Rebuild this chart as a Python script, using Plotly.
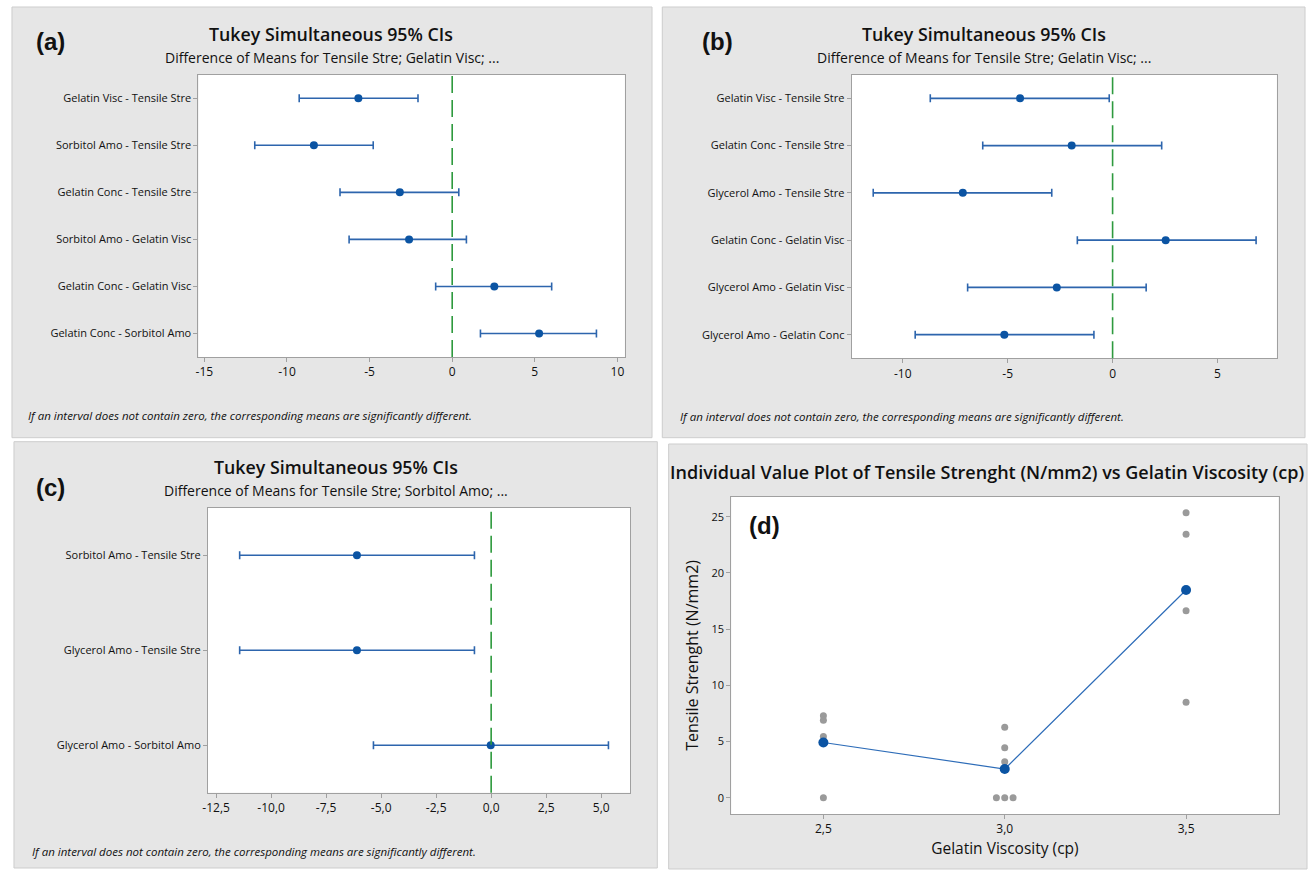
import plotly.graph_objects as go

W, H = 1311, 872

# ---------------- data ----------------
cats_a = ["Gelatin Visc - Tensile Stre", "Sorbitol Amo - Tensile Stre", "Gelatin Conc - Tensile Stre",
          "Sorbitol Amo - Gelatin Visc", "Gelatin Conc - Gelatin Visc", "Gelatin Conc - Sorbitol Amo"]
center_a = [-5.68, -8.37, -3.17, -2.61, 2.55, 5.26]
lower_a = [-9.26, -11.95, -6.79, -6.24, -1.00, 1.71]
upper_a = [-2.07, -4.78, 0.40, 0.86, 6.02, 8.73]

cats_b = ["Gelatin Visc - Tensile Stre", "Gelatin Conc - Tensile Stre", "Glycerol Amo - Tensile Stre",
          "Gelatin Conc - Gelatin Visc", "Glycerol Amo - Gelatin Visc", "Glycerol Amo - Gelatin Conc"]
center_b = [-4.41, -1.95, -7.14, 2.53, -2.66, -5.16]
lower_b = [-8.69, -6.19, -11.41, -1.68, -6.91, -9.41]
upper_b = [-0.16, 2.34, -2.90, 6.84, 1.60, -0.89]

cats_c = ["Sorbitol Amo - Tensile Stre", "Glycerol Amo - Tensile Stre", "Glycerol Amo - Sorbitol Amo"]
center_c = [-6.10, -6.10, -0.02]
lower_c = [-11.43, -11.43, -5.35]
upper_c = [-0.76, -0.76, 5.33]

xticks_a = [-15, -10, -5, 0, 5, 10]
xticklabels_a = ["-15", "-10", "-5", "0", "5", "10"]
xticks_b = [-10, -5, 0, 5]
xticklabels_b = ["-10", "-5", "0", "5"]
xticks_c = [-12.5, -10, -7.5, -5, -2.5, 0, 2.5, 5]
xticklabels_c = ["-12,5", "-10,0", "-7,5", "-5,0", "-2,5", "0,0", "2,5", "5,0"]

visc_levels = [2.5, 3.0, 3.5]
visc_ticklabels = ["2,5", "3,0", "3,5"]
indiv_x = [2.5, 2.5, 2.5, 2.5, 3.0, 3.0, 3.0, 2.977, 3.0, 3.023, 3.5, 3.5, 3.5, 3.5]
indiv_y = [7.3, 6.9, 5.45, 0, 6.26, 4.45, 3.2, 0, 0, 0, 25.36, 23.43, 16.64, 8.49]
mean_y = [4.91, 2.55, 18.48]
yticks_d = [0, 5, 10, 15, 20, 25]

# ---------------- style ----------------
FONT = "Open Sans"
BAR = "#2d65ad"
MARK = "#0b54a3"
GREEN = "#2e9a3e"
AXC = "#a0a0a0"
PANEL = "#e6e6e6"
PANEL_EDGE = "#cdcdcd"
TXT = "#111111"


def px(x):
    return x / W


def py(y):
    return 1 - y / H


fig = go.Figure()


def ci_trace(cats, center, lower, upper, xa, ya):
    fig.add_trace(go.Scatter(
        x=center, y=cats, mode="markers", xaxis=xa, yaxis=ya,
        marker=dict(color=MARK, size=8, symbol="circle"),
        error_x=dict(type="data", symmetric=False,
                     array=[u - c for u, c in zip(upper, center)],
                     arrayminus=[c - l for c, l in zip(center, lower)],
                     color=BAR, thickness=1.6, width=4),
        showlegend=False, hoverinfo="x+y"))


ci_trace(cats_a, center_a, lower_a, upper_a, "x", "y")
ci_trace(cats_b, center_b, lower_b, upper_b, "x2", "y2")
ci_trace(cats_c, center_c, lower_c, upper_c, "x3", "y3")

# panel d
fig.add_trace(go.Scatter(x=indiv_x, y=indiv_y, mode="markers", xaxis="x4", yaxis="y4",
                         marker=dict(color="#9a9a9a", size=7), showlegend=False))
fig.add_trace(go.Scatter(x=visc_levels, y=mean_y, mode="lines+markers", xaxis="x4", yaxis="y4",
                         line=dict(color="#2d6cb8", width=1.2),
                         marker=dict(color=MARK, size=10), showlegend=False))

# plot areas (pixels)
areas = {
    "a": (193.3, 621.7, 74.7, 357.0),
    "b": (849.5, 1276.7, 74.7, 358.3),
    "c": (202.9, 627.1, 507.7, 792.7),
    "d": (728.6, 1278.4, 496.7, 814.0),
}


def dom(key):
    x0, x1, y0, y1 = areas[key]
    return [px(x0), px(x1)], [py(y1), py(y0)]


tickfont_y = dict(family=FONT, size=11, color=TXT, weight=500)
tickfont_x = dict(family=FONT, size=12, color=TXT, weight=500)

common_x = dict(showgrid=False, zeroline=False, showline=True, linecolor=AXC, linewidth=1, mirror=True,
                ticks="outside", ticklen=4, tickcolor=AXC, tickfont=tickfont_x)
common_y = dict(showgrid=False, zeroline=False, showline=True, linecolor=AXC, linewidth=1, mirror=True,
                ticks="outside", ticklen=4, tickcolor=AXC, tickfont=tickfont_y)

xd, yd = dom("a")
fig.update_layout(
    xaxis=dict(domain=xd, anchor="y", range=[-15.36, 10.45], tickvals=xticks_a, ticktext=xticklabels_a, **common_x),
    yaxis=dict(domain=yd, anchor="x", type="category", categoryorder="array", categoryarray=cats_a,
               range=[5.5, -0.5], **common_y),
)
xd, yd = dom("b")
fig.update_layout(
    xaxis2=dict(domain=xd, anchor="y2", range=[-12.44, 7.83], tickvals=xticks_b, ticktext=xticklabels_b, **common_x),
    yaxis2=dict(domain=yd, anchor="x2", type="category", categoryorder="array", categoryarray=cats_b,
                range=[5.5, -0.5], **common_y),
)
xd, yd = dom("c")
fig.update_layout(
    xaxis3=dict(domain=xd, anchor="y3", range=[-12.87, 6.32], tickvals=xticks_c, ticktext=xticklabels_c, **common_x),
    yaxis3=dict(domain=yd, anchor="x3", type="category", categoryorder="array", categoryarray=cats_c,
                range=[2.5, -0.5], **common_y),
)
xd, yd = dom("d")
fig.update_layout(
    xaxis4=dict(domain=xd, anchor="y4", range=[2.246, 3.755], tickvals=visc_levels, ticktext=visc_ticklabels,
                title=dict(text="Gelatin Viscosity (cp)", font=dict(family=FONT, size=15.5, color=TXT, weight=500),
                           standoff=6),
                **common_x),
    yaxis4=dict(domain=yd, anchor="x4", range=[-1.45, 26.78], tickvals=yticks_d,
                title=dict(text="Tensile Strenght (N/mm2)", font=dict(family=FONT, size=16, color=TXT, weight=500),
                           standoff=8),
                **common_y),
)

# shapes: gray panels, white plot areas, zero lines
shapes = []
panels = [(6, 649, 7, 437.7), (659.3, 1305, 7, 437.7), (8, 654.3, 441.7, 868), (665.7, 1307, 444, 869)]
for (x0, x1, y0, y1) in panels:
    shapes.append(dict(type="rect", xref="paper", yref="paper", x0=px(x0), x1=px(x1), y0=py(y1), y1=py(y0),
                       fillcolor=PANEL, line=dict(color=PANEL_EDGE, width=1), layer="below"))
for k, (ax, ay) in zip("abcd", [("x", "y"), ("x2", "y2"), ("x3", "y3"), ("x4", "y4")]):
    shapes.append(dict(type="rect", xref=ax + " domain", yref=ay + " domain", x0=0, x1=1, y0=0, y1=1,
                       fillcolor="white", line=dict(width=0), layer="below"))
for ax, ay in [("x", "y"), ("x2", "y2"), ("x3", "y3")]:
    shapes.append(dict(type="line", xref=ax, yref=ay + " domain", x0=0, x1=0, y0=0, y1=1,
                       line=dict(color=GREEN, width=1.6, dash="17px,7px"), layer="above"))

annotations = []


def text(x, y, s, size, bold=False, italic=False, anchor="center", family=FONT, weight=None):
    if bold:
        s = "<b>" + s + "</b>"
    if italic:
        s = "<i>" + s + "</i>"
    f = dict(family=family, size=size, color=TXT)
    if weight:
        f["weight"] = weight
    annotations.append(dict(x=px(x), y=py(y), xref="paper", yref="paper", text=s, showarrow=False,
                            xanchor=anchor, yanchor="middle", font=f))


title_ci = "Tukey Simultaneous 95% CIs"
note = "If an interval does not contain zero, the corresponding means are significantly different."

TS, SS, NS = 17.8, 14, 11.5
LAB = 24

text(326.5, 34, title_ci, TS, weight=600)
text(327.5, 57, "Difference of Means for Tensile Stre; Gelatin Visc; ...", SS, weight=500)
text(28, 42, "(a)", LAB, bold=True, anchor="left", family="Liberation Sans")
text(20, 415, note, NS, italic=True, anchor="left")

text(982, 34, title_ci, TS, weight=600)
text(982, 57, "Difference of Means for Tensile Stre; Gelatin Visc; ...", SS, weight=500)
text(697, 42, "(b)", LAB, bold=True, anchor="left", family="Liberation Sans")
text(675, 416, note, NS, italic=True, anchor="left")

text(332, 466.7, title_ci, TS, weight=600)
text(332, 490.7, "Difference of Means for Tensile Stre; Sorbitol Amo; ...", SS, weight=500)
text(28, 487, "(c)", LAB, bold=True, anchor="left", family="Liberation Sans")
text(24, 851, note, NS, italic=True, anchor="left")

text(985.5, 472.3, "Individual Value Plot of Tensile Strenght (N/mm2) vs Gelatin Viscosity (cp)", 18, weight=600)
text(744, 525, "(d)", LAB, bold=True, anchor="left", family="Liberation Sans")

fig.update_layout(
    width=W, height=H, margin=dict(l=0, r=0, t=0, b=0),
    paper_bgcolor="white", plot_bgcolor="rgba(0,0,0,0)",
    shapes=shapes, annotations=annotations, showlegend=False,
    font=dict(family=FONT, color=TXT),
)

fig.write_html("out.html")
